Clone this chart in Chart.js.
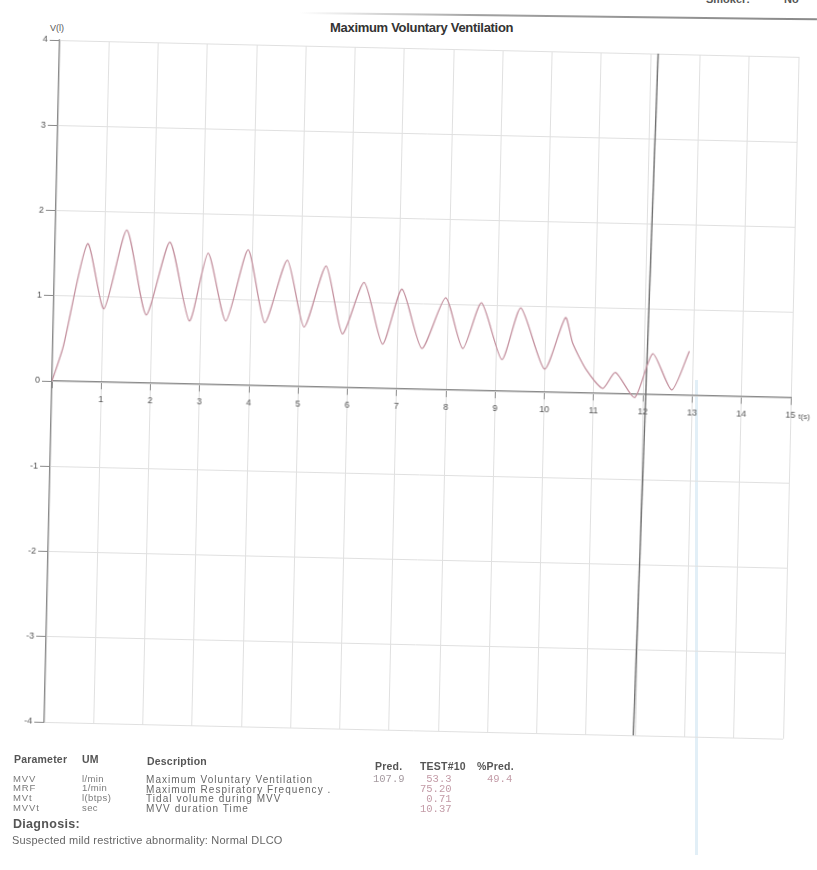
<!DOCTYPE html>
<html><head><meta charset="utf-8">
<script src="https://cdn.jsdelivr.net/npm/chart.js@4.4.0/dist/chart.umd.min.js"></script>
<style>
html,body{margin:0;padding:0;background:#fff;width:817px;height:870px;overflow:hidden;font-family:"Liberation Sans",Arial,sans-serif;}
#wrap{position:absolute;left:0;top:0;width:817px;height:760px;transform-origin:52px 381px;transform:rotate(1.3deg);}
#wrap canvas{position:absolute;left:0;top:0;}
.t{position:absolute;white-space:nowrap;line-height:1;}
.hd{font-weight:bold;font-size:10.5px;color:#555;letter-spacing:0.2px;}
.rw{font-size:9.5px;color:#7a7a7a;letter-spacing:0.9px;}
.ds{font-size:10px;color:#666;letter-spacing:1.05px;}
.mn{font-family:"Liberation Mono","DejaVu Sans Mono",monospace;font-size:10.5px;color:#c39ba7;}
</style></head><body>
<div style="position:absolute;left:300px;top:12px;width:517px;height:2px;background:linear-gradient(90deg,rgba(150,150,150,0),#a0a0a0 35%,#8a8a8a);transform:rotate(0.7deg);transform-origin:0 0;"></div>
<span class="t" style="left:706px;top:-6px;font-size:11px;font-weight:bold;color:#555;">Smoker:</span>
<span class="t" style="left:784px;top:-6px;font-size:11px;font-weight:bold;color:#555;">No</span>
<div class="t" style="left:330px;top:21px;font-weight:bold;font-size:13px;color:#333;letter-spacing:-0.3px;">Maximum Voluntary Ventilation</div>
<span class="t" style="left:50px;top:24px;font-size:9px;color:#555;">V(l)</span>
<div style="position:absolute;left:695px;top:380px;width:3px;height:475px;background:#e2eff7;"></div>
<div id="wrap"><canvas id="c" width="817" height="760"></canvas>
<span class="t" style="left:799px;top:396px;font-size:8px;color:#555;">t(s)</span></div>

<span class="t hd" style="left:14px;top:754px;">Parameter</span>
<span class="t hd" style="left:82px;top:754px;">UM</span>
<span class="t hd" style="left:147px;top:756px;">Description</span>
<span class="t hd" style="left:375px;top:761px;">Pred.</span>
<span class="t hd" style="left:420px;top:761px;">TEST#10</span>
<span class="t hd" style="left:477px;top:761px;">%Pred.</span>
<div id="rows"></div>
<span class="t" style="left:13px;top:818px;font-size:12.5px;font-weight:bold;color:#555;letter-spacing:0.3px;">Diagnosis:</span>
<span class="t" style="left:12px;top:835px;font-size:11px;color:#666;letter-spacing:0.2px;">Suspected mild restrictive abnormality: Normal DLCO</span>

<script>
// ---- data ----
const times   = [0, 0.21, 0.66, 1.02, 1.45, 1.88, 2.33, 2.76, 3.11, 3.50, 3.92, 4.29, 4.72, 5.09, 5.51, 5.87, 6.29, 6.69, 7.06, 7.49, 7.95, 8.32, 8.68, 9.12, 9.48, 9.99, 10.39, 10.55, 10.84, 11.18, 11.43, 11.83, 12.18, 12.58, 12.92];
const volumes = [0, 0.40, 1.62, 0.86, 1.79, 0.80, 1.66, 0.74, 1.54, 0.75, 1.59, 0.74, 1.48, 0.70, 1.42, 0.63, 1.24, 0.52, 1.17, 0.48, 1.08, 0.49, 1.03, 0.37, 0.98, 0.27, 0.88, 0.58, 0.27, 0.06, 0.25, -0.04, 0.48, 0.06, 0.52];
const markerTimes   = [12.15, 11.96];
const markerVolumes = [4, -4];
const xTickValues = [0,1,2,3,4,5,6,7,8,9,10,11,12,13,14,15];
const yTickValues = [-4,-3,-2,-1,0,1,2,3,4];

const paramCodes = ["MVV","MRF","MVt","MVVt"];
const paramUnits = ["l/min","1/min","l(btps)","sec"];
const paramDescriptions = ["Maximum Voluntary Ventilation","Maximum Respiratory Frequency .","Tidal volume during MVV","MVV duration Time"];
const predValues = ["107.9","","",""];
const testValues = [" 53.3","75.20"," 0.71","10.37"];
const pctValues  = ["49.4","","",""];

// table rows
const rows = document.getElementById('rows');
const rowTop = [773.5, 783.3, 793, 802.5];
const descTop = [775, 784.5, 794, 803.5];
const valTop = [773.5, 784, 794, 804];
let html = '';
for (let i = 0; i < paramCodes.length; i++) {
  html += `<span class="t rw" style="left:13px;top:${rowTop[i]}px;">${paramCodes[i]}</span>`;
  html += `<span class="t rw" style="left:82px;top:${rowTop[i]}px;letter-spacing:0.4px;">${paramUnits[i]}</span>`;
  html += `<span class="t ds" style="left:146px;top:${descTop[i]}px;">${paramDescriptions[i]}</span>`;
  if (predValues[i]) html += `<span class="t mn" style="left:373px;top:${valTop[i]}px;color:#a59aa0;">${predValues[i]}</span>`;
  html += `<span class="t mn" style="left:420px;top:${valTop[i]}px;white-space:pre;">${testValues[i]}</span>`;
  if (pctValues[i]) html += `<span class="t mn" style="left:487px;top:${valTop[i]}px;">${pctValues[i]}</span>`;
}
rows.innerHTML = html;

const curve = times.map((t, i) => ({x: t, y: volumes[i]}));
const marker = markerTimes.map((t, i) => ({x: t, y: markerVolumes[i]}));

new Chart(document.getElementById('c'), {
  type: 'line',
  data: {
    datasets: [
      {label: 'Volume', data: curve, borderColor: '#c4919f', borderWidth: 1.3, pointRadius: 0, tension: 0.22, fill: false},
      {label: 'Marker', data: marker, borderColor: '#6e6e6e', borderWidth: 1.4, pointRadius: 0, tension: 0, fill: false}
    ]
  },
  options: {
    responsive: false,
    animation: false,
    devicePixelRatio: 1,
    layout: {padding: {left: 0, right: 26, top: 40, bottom: 38}},
    plugins: {legend: {display: false}, title: {display: false}, tooltip: {enabled: false}},
    scales: {
      x: {
        type: 'linear', min: 0, max: 15,
        position: {y: 0},
        afterBuildTicks: s => { s.ticks = xTickValues.map(v => ({value: v})); },
        ticks: {callback: v => v === 0 ? '' : String(v), color: '#555', font: {family: 'Liberation Sans', size: 9}, padding: 5, maxRotation: 0, autoSkip: false},
        grid: {color: '#e0e0e0', lineWidth: 1, tickLength: 7, tickColor: '#8a8a8a'},
        border: {color: '#8a8a8a', width: 1.2}
      },
      y: {
        type: 'linear', min: -4, max: 4,
        position: 'left',
        afterBuildTicks: s => { s.ticks = yTickValues.map(v => ({value: v})); },
        afterFit: s => { s.width = 52; },
        ticks: {color: '#555', font: {family: 'Liberation Sans', size: 9}, padding: 2},
        grid: {color: '#e0e0e0', lineWidth: 1, tickLength: 10, tickColor: '#8a8a8a'},
        border: {color: '#8a8a8a', width: 1.2}
      }
    }
  }
});
</script>
</body></html>
